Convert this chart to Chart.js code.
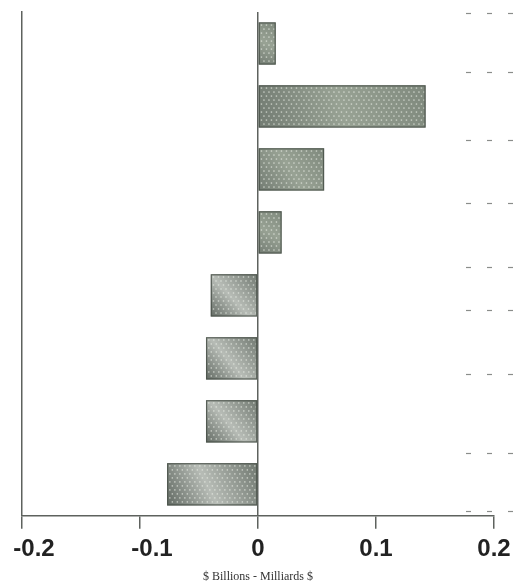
<!DOCTYPE html>
<html>
<head>
<meta charset="utf-8">
<script src="https://cdn.jsdelivr.net/npm/chart.js@4"></script>
<style>
  html, body { margin: 0; padding: 0; background: #fff; }
  #wrap { width: 524px; height: 587px; position: relative; }
</style>
</head>
<body>
<div id="wrap"><canvas id="c"></canvas></div>
<script>
// Row order, top to bottom
const rows = ['1', '2', '3', '4', '5', '6', '7', '8'];
// Change per row, $ billions
const values = [0.015, 0.142, 0.056, 0.020, -0.040, -0.044, -0.044, -0.077];
// Axis tick labels
const tickLabels = ['-0.2', '-0.1', '0', '0.1', '0.2'];
const tickValues = [-0.2, -0.1, 0, 0.1, 0.2];
// Short dashed leader marks at the right edge (positions in row units)
const leaderRows = [-0.48, 0.46, 1.54, 2.53, 3.55, 4.23, 5.25, 6.5, 7.42];

const axisColor = '#5e625e';

function barGradient(context) {
  const chart = context.chart;
  const xs = chart.scales.x, ys = chart.scales.y;
  const v = context.raw;
  if (!xs || !ys || typeof v !== 'number') return '#8e978d';
  const x0 = xs.getPixelForValue(0), x1 = xs.getPixelForValue(v);
  const yc = ys.getPixelForValue(context.dataIndex);
  if (![x0, x1, yc].every(Number.isFinite)) return '#8e978d';
  const h = 22;
  const left = Math.min(x0, x1), right = Math.max(x0, x1);
  const g = chart.ctx.createLinearGradient(left, yc + h, right, yc - h);
  if (v < 0) {
    g.addColorStop(0, '#616962');
    g.addColorStop(0.45, '#b7bcb6');
    g.addColorStop(1, '#6f776f');
  } else {
    g.addColorStop(0, '#727b72');
    g.addColorStop(0.5, '#98a294');
    g.addColorStop(1, '#7f897d');
  }
  return g;
}

// Fine dot texture over the bars
const dotTexture = {
  id: 'dotTexture',
  afterDatasetsDraw(chart) {
    const ctx = chart.ctx;
    const meta = chart.getDatasetMeta(0);
    ctx.save();
    meta.data.forEach(bar => {
      const p = bar.getProps(['x', 'y', 'base', 'height'], true);
      const l = Math.min(p.x, p.base), r = Math.max(p.x, p.base);
      const t = p.y - p.height / 2, b = p.y + p.height / 2;
      ctx.save();
      ctx.beginPath();
      ctx.rect(l + 1, t + 1, r - l - 2, b - t - 2);
      ctx.clip();
      ctx.fillStyle = 'rgba(232,236,228,0.7)';
      for (let yy = t + 2, row = 0; yy < b; yy += 4, row++) {
        for (let xx = l + 2 + (row % 2) * 2.5; xx < r; xx += 5) {
          ctx.fillRect(xx, yy, 1.4, 1.4);
        }
      }
      ctx.restore();
      // darker outline
      ctx.strokeStyle = 'rgba(72,80,72,0.85)';
      ctx.lineWidth = 1.2;
      ctx.strokeRect(l + 0.5, t + 0.5, r - l - 1, b - t - 1);
    });
    ctx.restore();
  }
};

// Leader dashes along the right edge
const leaders = {
  id: 'leaders',
  afterDraw(chart) {
    const ctx = chart.ctx;
    const ys = chart.scales.y;
    const xs = [466, 487, 508];
    ctx.save();
    ctx.strokeStyle = '#8a8d8a';
    ctx.lineWidth = 1.2;
    leaderRows.forEach(r => {
      const y = Math.round(ys.getPixelForValue(r)) + 0.5;
      xs.forEach(x => {
        ctx.beginPath();
        ctx.moveTo(x, y);
        ctx.lineTo(x + 5, y);
        ctx.stroke();
      });
    });
    ctx.restore();
  }
};

new Chart(document.getElementById('c'), {
  type: 'bar',
  data: {
    labels: rows,
    datasets: [{
      data: values,
      backgroundColor: barGradient,
      borderWidth: 0,
      barPercentage: 0.67,
      categoryPercentage: 1.0
    }]
  },
  options: {
    indexAxis: 'y',
    responsive: true,
    maintainAspectRatio: false,
    animation: false,
    layout: { padding: { left: 22, right: 30, top: 12, bottom: 3 } },
    plugins: { legend: { display: false }, tooltip: { enabled: false } },
    scales: {
      x: {
        min: -0.2,
        max: 0.2,
        afterBuildTicks(axis) { axis.ticks = tickValues.map(v => ({ value: v })); },
        afterFit(axis) { axis.paddingLeft = 0; axis.paddingRight = 0; },
        ticks: {
          color: '#222',
          font: { family: 'Liberation Sans, Arial, sans-serif', size: 24, weight: 'bold' },
          padding: 6,
          maxRotation: 0,
          // negative labels sit slightly right of their ticks
          callback: (v, i) => (tickValues[i] < 0 ? '\u2002\u2002' : '') + tickLabels[i]
        },
        grid: {
          drawOnChartArea: true,
          color: c => (c.tick && c.tick.value === 0 ? axisColor : 'rgba(0,0,0,0)'),
          lineWidth: 1.5,
          tickLength: 13,
          tickColor: axisColor,
          tickWidth: 1.5
        },
        border: { display: true, color: axisColor, width: 1.5 },
        title: {
          display: true,
          text: '$ Billions - Milliards $',
          color: '#333',
          font: { family: 'Liberation Serif, Times New Roman, serif', size: 12 },
          padding: { top: 0, bottom: 0 }
        }
      },
      y: {
        afterFit(axis) { axis.width = 0; },
        ticks: { display: false },
        grid: { display: false },
        border: { display: true, color: axisColor, width: 1.5 }
      }
    }
  },
  plugins: [dotTexture, leaders]
});
</script>
</body>
</html>
